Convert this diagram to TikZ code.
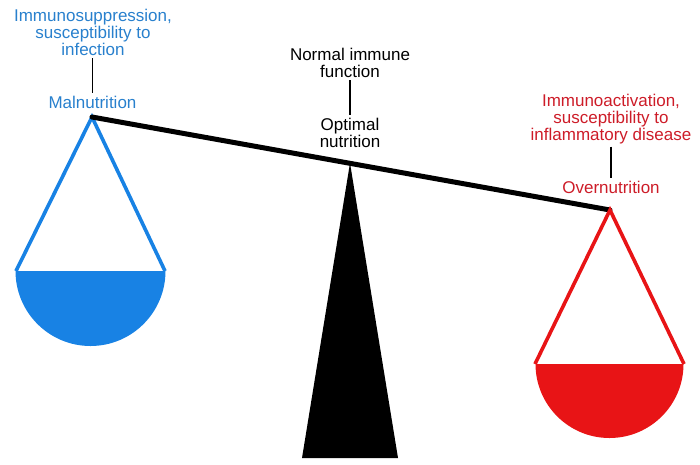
\documentclass[tikz,border=0pt]{standalone}
\usepackage{fontspec}
\setmainfont{Liberation Sans}
\definecolor{panblue}{RGB}{24,130,228}
\definecolor{txtblue}{RGB}{40,128,205}
\definecolor{panred}{RGB}{232,20,22}
\definecolor{txtred}{RGB}{205,28,40}
\tikzset{
  lbl/.style={inner sep=0pt, align=center, font=\fontsize{17}{17}\selectfont, anchor=base},
  conn/.style={line width=1.6pt, black},
  beamline/.style={line width=5pt, black, line cap=round},
  panline/.style={line width=3.6pt, line join=miter},
}
\begin{document}
\begin{tikzpicture}[x=1pt,y=-1pt]
\useasboundingbox (0,0) rectangle (700,464);
% coordinates
\coordinate (LA) at (92,117);
\coordinate (RA) at (610,210);
\coordinate (LBl) at (16,271);
\coordinate (LBr) at (165,271);
\coordinate (RBl) at (535,364);
\coordinate (RBr) at (684,364);
\coordinate (FT) at (350,163);
\coordinate (FL) at (302,458);
\coordinate (FR) at (398,458);
% fulcrum
\fill[black] (FT) -- (FR) -- (FL) -- cycle;
% left pan
\begin{scope}
  \clip (0,271) rectangle (200,380);
  \fill[panblue] (90.5,271) circle[radius=75pt];
\end{scope}
\draw[panline, panblue] (LBl) -- (LA) -- (LBr);
% right pan
\begin{scope}
  \clip (500,364) rectangle (700,464);
  \fill[panred] (609.5,364) circle[radius=74pt];
\end{scope}
% beam
\draw[beamline] (LA) -- (RA);
\draw[panline, panred] (RBl) -- (RA) -- (RBr);
% texts (anchor=base is the baseline of the last line)
\node[lbl, txtblue] (leftq) at (93,55) {Immunosuppression,\\susceptibility to\\infection};
\node[lbl, txtblue] (maln) at (92.5,108) {Malnutrition};
\node[lbl] (normal) at (350,77) {Normal immune\\function};
\node[lbl] (optimal) at (350,147) {Optimal\\nutrition};
\node[lbl, txtred] (rightq) at (611,140) {Immunoactivation,\\susceptibility to\\inflammatory disease};
\node[lbl, txtred] (overn) at (611,193) {Overnutrition};
% connectors
\draw[conn] ([yshift=-3pt]leftq.south -| maln) -- ([yshift=2pt]maln.north);
\draw[conn] ([yshift=-3pt]normal.south) -- ([yshift=2pt]optimal.north);
\draw[conn] ([yshift=-3pt]rightq.south -| overn) -- ([yshift=2pt]overn.north);
\end{tikzpicture}
\end{document}
